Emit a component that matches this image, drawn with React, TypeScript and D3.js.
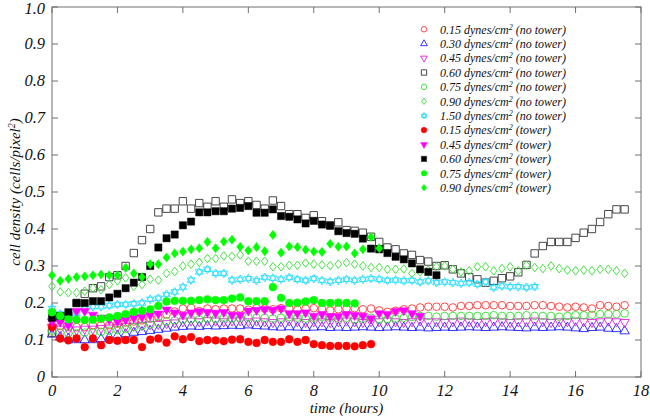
import React from "react";
import * as d3 from "d3";

// ---------- data ----------
const TIME_STEP = 0.25; // hours between samples
const xTicks = [0, 2, 4, 6, 8, 10, 12, 14, 16, 18];
const yTicks = [0, 0.1, 0.2, 0.3, 0.4, 0.5, 0.6, 0.7, 0.8, 0.9, 1.0];

const noTower015 = [
  0.138, 0.138, 0.135, 0.135, 0.135, 0.14, 0.14, 0.14, 0.144, 0.147, 0.15, 0.153, 0.158, 0.162, 0.169, 0.177, 0.185, 0.187, 0.178, 0.185, 0.183, 0.185, 0.185, 0.185,
  0.182, 0.186, 0.185, 0.183, 0.186, 0.185, 0.182, 0.185, 0.186, 0.184, 0.18, 0.183, 0.185, 0.186, 0.183, 0.185, 0.18,
  0.176, 0.179, 0.183, 0.185, 0.188, 0.19, 0.19, 0.19, 0.188, 0.192, 0.192, 0.194, 0.194, 0.194, 0.194, 0.192, 0.192, 0.192, 0.194, 0.194,
  0.192, 0.19, 0.188, 0.19, 0.188, 0.185, 0.194, 0.192, 0.19, 0.194,
];
const noTower030 = [
  0.115, 0.108, 0.104, 0.1, 0.1, 0.1, 0.103, 0.108, 0.112, 0.116, 0.12, 0.122, 0.125, 0.128, 0.131, 0.134,
  0.136, 0.137, 0.136, 0.138, 0.137, 0.138, 0.139, 0.138, 0.14, 0.138, 0.137, 0.135, 0.134, 0.135, 0.134, 0.133, 0.134, 0.135, 0.133, 0.134,
  0.133, 0.134, 0.135, 0.134, 0.133, 0.134, 0.135, 0.134, 0.133, 0.134, 0.132, 0.133, 0.134, 0.133, 0.134, 0.135, 0.134, 0.133, 0.134, 0.135,
  0.134, 0.133, 0.132, 0.134, 0.133, 0.134, 0.135, 0.134, 0.132, 0.13, 0.133, 0.134, 0.131, 0.13, 0.124,
];
const noTower045 = [
  0.135, 0.13, 0.128, 0.128, 0.13, 0.13, 0.132, 0.133, 0.135, 0.137, 0.138, 0.14, 0.142, 0.143, 0.145, 0.147,
  0.15, 0.152, 0.15, 0.153, 0.152, 0.15, 0.152, 0.153, 0.15, 0.152, 0.15, 0.148, 0.15, 0.152, 0.15, 0.148, 0.15, 0.15, 0.148, 0.15,
  0.152, 0.15, 0.148, 0.15, 0.15, 0.152, 0.15, 0.148, 0.15, 0.152, 0.15, 0.15, 0.148, 0.15, 0.152, 0.15, 0.148, 0.15, 0.152, 0.15,
  0.148, 0.15, 0.15, 0.152, 0.15, 0.148, 0.15, 0.15, 0.152, 0.15, 0.148, 0.15, 0.152, 0.15, 0.148,
];
const noTower060 = [
  0.12, 0.16, 0.165, 0.2, 0.225, 0.24, 0.245, 0.27, 0.275, 0.3, 0.335, 0.37, 0.4, 0.445, 0.455, 0.455, 0.475, 0.455, 0.47, 0.46,
  0.475, 0.46, 0.48, 0.47, 0.475, 0.465, 0.455, 0.477, 0.462, 0.44, 0.44, 0.43, 0.437, 0.421, 0.41, 0.418, 0.397, 0.395, 0.39, 0.379,
  0.365, 0.35, 0.345, 0.334, 0.33, 0.316, 0.312, 0.3, 0.302, 0.291, 0.28, 0.27, 0.264, 0.255, 0.26, 0.267, 0.272, 0.283, 0.303, 0.334,
  0.354, 0.365, 0.365, 0.365, 0.376, 0.39, 0.4, 0.419, 0.44, 0.453, 0.453,
];
const noTower075 = [
  0.125, 0.12, 0.118, 0.118, 0.12, 0.12, 0.122, 0.125, 0.127, 0.13, 0.135, 0.138, 0.142, 0.146, 0.15, 0.153,
  0.155, 0.156, 0.156, 0.158, 0.157, 0.16, 0.158, 0.16, 0.162, 0.16, 0.16, 0.158, 0.16, 0.162, 0.16, 0.158, 0.16, 0.162, 0.16, 0.158,
  0.16, 0.156, 0.158, 0.16, 0.156,
  0.156, 0.158, 0.16, 0.162, 0.165, 0.165, 0.163, 0.165, 0.165, 0.165, 0.165, 0.165, 0.165, 0.167, 0.165, 0.165, 0.165, 0.167, 0.165, 0.165,
  0.165, 0.163, 0.165, 0.167, 0.167, 0.168, 0.17, 0.17, 0.17, 0.172,
];
const noTower090 = [
  0.245, 0.23, 0.228, 0.228, 0.232, 0.24, 0.236, 0.25, 0.26, 0.268, 0.245, 0.25, 0.264, 0.262, 0.28, 0.285, 0.3, 0.305, 0.31, 0.32,
  0.32, 0.327, 0.326, 0.33, 0.313, 0.313, 0.313, 0.298, 0.298, 0.302, 0.302, 0.308, 0.305, 0.303, 0.301, 0.305, 0.309, 0.305, 0.3, 0.296,
  0.296, 0.291, 0.291, 0.292, 0.28, 0.284, 0.289, 0.298, 0.3, 0.291, 0.284, 0.287, 0.298, 0.298, 0.287, 0.293, 0.298, 0.287, 0.302, 0.296,
  0.293, 0.3, 0.293, 0.289, 0.287, 0.289, 0.287, 0.291, 0.291, 0.287, 0.28,
];
const noTower150 = [
  0.185, 0.17, 0.17, 0.172, 0.185, 0.19, 0.19, 0.193, 0.196, 0.196, 0.198, 0.2, 0.21, 0.213, 0.223, 0.23, 0.243,
  0.262, 0.284, 0.291, 0.28, 0.28,
  0.262, 0.264, 0.266, 0.261, 0.269, 0.267, 0.264, 0.269, 0.264, 0.261, 0.266, 0.261, 0.258, 0.261, 0.264, 0.261, 0.264, 0.266,
  0.264, 0.261, 0.262, 0.26, 0.261, 0.257, 0.26, 0.255, 0.257, 0.255, 0.253, 0.255, 0.251, 0.257, 0.242, 0.246, 0.244, 0.244, 0.242, 0.244,
];
const tower015 = [
  0.135, 0.104, 0.099, 0.104, 0.081, 0.104, 0.086, 0.1, 0.098, 0.1, 0.1, 0.081, 0.101, 0.104, 0.093, 0.11, 0.102, 0.108, 0.097, 0.1,
  0.099, 0.097, 0.101, 0.102, 0.095, 0.092, 0.1, 0.095, 0.095, 0.102, 0.095, 0.1, 0.089, 0.086, 0.084, 0.084, 0.084, 0.083, 0.086, 0.089,
];
const tower045 = [
  0.15, 0.149, 0.14, 0.178, 0.178, 0.168, 0.16, 0.155, 0.15, 0.155, 0.16, 0.162, 0.167, 0.171, 0.182, 0.174, 0.168, 0.174, 0.177, 0.175,
  0.173, 0.175, 0.168, 0.167, 0.179, 0.181, 0.183, 0.181, 0.185, 0.172, 0.172, 0.174, 0.165, 0.17, 0.164, 0.164, 0.17, 0.167, 0.165, 0.158,
  0.172, 0.17, 0.178, 0.18, 0.172, 0.165,
];
const tower060 = [
  0.16, 0.165, 0.175, 0.2, 0.2, 0.205, 0.205, 0.215, 0.225, 0.24, 0.255, 0.27, 0.3, 0.35, 0.375, 0.385, 0.41, 0.42, 0.445, 0.445,
  0.448, 0.448, 0.455, 0.457, 0.462, 0.444, 0.444, 0.453, 0.435, 0.433, 0.426, 0.415, 0.422, 0.412, 0.409, 0.394, 0.389, 0.387, 0.374, 0.347,
  0.345, 0.335, 0.325, 0.318, 0.307, 0.291, 0.284, 0.275,
];
const tower075 = [
  0.175, 0.165, 0.156, 0.155, 0.154, 0.155, 0.158, 0.161, 0.165, 0.17, 0.176, 0.179, 0.183, 0.192, 0.204, 0.206, 0.206, 0.206, 0.208, 0.21,
  0.208, 0.208, 0.212, 0.215, 0.205, 0.205, 0.205, 0.243, 0.214, 0.2, 0.201, 0.204, 0.208, 0.2, 0.2, 0.201, 0.2, 0.199,
];
const tower090 = [
  0.275, 0.26, 0.265, 0.27, 0.272, 0.275, 0.277, 0.275, 0.275, 0.295, 0.28, 0.27, 0.305, 0.305, 0.323, 0.334, 0.339, 0.345, 0.348, 0.365,
  0.348, 0.366, 0.371, 0.352, 0.342, 0.351, 0.34, 0.384, 0.336, 0.353, 0.351, 0.344, 0.339, 0.338, 0.36, 0.352, 0.353, 0.334, 0.345, 0.378,
  0.348,
];

const seriesLabels = [
  "0.15", "0.30", "0.45", "0.60", "0.75", "0.90", "1.50",
  "0.15", "0.45", "0.60", "0.75", "0.90",
];
const seriesGroups = [
  "no tower", "no tower", "no tower", "no tower", "no tower", "no tower", "no tower",
  "tower", "tower", "tower", "tower", "tower",
];
const seriesValues = [
  noTower015, noTower030, noTower045, noTower060, noTower075, noTower090, noTower150,
  tower015, tower045, tower060, tower075, tower090,
];

// ---------- styles ----------
type Shape = "circle" | "up" | "down" | "square" | "diamond" | "hexagram";
const seriesStyles: { shape: Shape; color: string; filled: boolean; r: number }[] = [
  { shape: "circle", color: "#ff3333", filled: false, r: 3.8 },
  { shape: "up", color: "#2020ff", filled: false, r: 5.4 },
  { shape: "down", color: "#e020e0", filled: false, r: 5.4 },
  { shape: "square", color: "#333333", filled: false, r: 3.7 },
  { shape: "circle", color: "#33dd33", filled: false, r: 3.8 },
  { shape: "diamond", color: "#33dd33", filled: false, r: 4.3 },
  { shape: "hexagram", color: "#22ddff", filled: false, r: 4.4 },
  { shape: "circle", color: "#ff0000", filled: true, r: 3.9 },
  { shape: "down", color: "#ff00ff", filled: true, r: 5.4 },
  { shape: "square", color: "#000000", filled: true, r: 3.6 },
  { shape: "circle", color: "#00ff00", filled: true, r: 3.9 },
  { shape: "diamond", color: "#00ff00", filled: true, r: 4.6 },
];

// custom symbol types (size = r^2)
const symUp = {
  draw(ctx: any, size: number) {
    const r = Math.sqrt(size);
    const c = Math.cos(Math.PI / 6) * r;
    ctx.moveTo(0, -r);
    ctx.lineTo(c, r / 2);
    ctx.lineTo(-c, r / 2);
    ctx.closePath();
  },
};
const symDown = {
  draw(ctx: any, size: number) {
    const r = Math.sqrt(size);
    const c = Math.cos(Math.PI / 6) * r;
    ctx.moveTo(0, r);
    ctx.lineTo(c, -r / 2);
    ctx.lineTo(-c, -r / 2);
    ctx.closePath();
  },
};
const symSquare = {
  draw(ctx: any, size: number) {
    const r = Math.sqrt(size);
    ctx.rect(-r, -r, 2 * r, 2 * r);
  },
};
const symCircle = {
  draw(ctx: any, size: number) {
    const r = Math.sqrt(size);
    ctx.moveTo(r, 0);
    ctx.arc(0, 0, r, 0, 2 * Math.PI);
  },
};
const symDiamond = {
  draw(ctx: any, size: number) {
    const r = Math.sqrt(size);
    const w = r * 0.78;
    ctx.moveTo(0, -r);
    ctx.lineTo(w, 0);
    ctx.lineTo(0, r);
    ctx.lineTo(-w, 0);
    ctx.closePath();
  },
};
const symHexagram = {
  draw(ctx: any, size: number) {
    const r = Math.sqrt(size);
    const c = Math.cos(Math.PI / 6) * r;
    ctx.moveTo(0, -r);
    ctx.lineTo(c, r / 2);
    ctx.lineTo(-c, r / 2);
    ctx.closePath();
    ctx.moveTo(0, r);
    ctx.lineTo(c, -r / 2);
    ctx.lineTo(-c, -r / 2);
    ctx.closePath();
  },
};
const symbolTypes: Record<Shape, any> = {
  circle: symCircle,
  up: symUp,
  down: symDown,
  square: symSquare,
  diamond: symDiamond,
  hexagram: symHexagram,
};

const W = 650;
const H = 418;
const M = { left: 52, right: 641, top: 7, bottom: 377 };
const FONT = '"Liberation Serif", "Times New Roman", serif';
const AXIS_COLOR = "#707070";
const textStyle = { fontFamily: FONT, fontStyle: "italic" as const };

export default function App() {
  const x = d3.scaleLinear().domain([0, 18]).range([M.left, M.right]);
  const y = d3.scaleLinear().domain([0, 1]).range([M.bottom, M.top]);

  const markerPath = (i: number, scale = 1) => {
    const st = seriesStyles[i];
    const r = st.r * scale;
    return d3.symbol().type(symbolTypes[st.shape]).size(r * r)() as string;
  };

  const tickLen = 6;
  const legendX = 424;
  const legendTextX = 440;
  const legendY0 = 29.3;
  const legendStep = 14.4;

  return (
    <svg width={W} height={H} style={{ position: "absolute", left: 0, top: 0, background: "#fff" }}>
      <rect x={0} y={0} width={W} height={H} fill="#fff" />
      {/* frame */}
      <rect
        x={M.left}
        y={M.top}
        width={M.right - M.left}
        height={M.bottom - M.top}
        fill="none"
        stroke={AXIS_COLOR}
        strokeWidth={1}
      />
      {/* x ticks */}
      {xTicks.map((t) => (
        <g key={"xt" + t}>
          <line x1={x(t)} x2={x(t)} y1={M.bottom} y2={M.bottom - tickLen} stroke={AXIS_COLOR} />
          <line x1={x(t)} x2={x(t)} y1={M.top} y2={M.top + tickLen} stroke={AXIS_COLOR} />
          <text x={x(t)} y={396} textAnchor="middle" fontSize={16.5} fill="#111" style={textStyle}>
            {t}
          </text>
        </g>
      ))}
      {/* y ticks */}
      {yTicks.map((v) => (
        <g key={"yt" + v}>
          <line x1={M.left} x2={M.left + tickLen} y1={y(v)} y2={y(v)} stroke={AXIS_COLOR} />
          <line x1={M.right} x2={M.right - tickLen} y1={y(v)} y2={y(v)} stroke={AXIS_COLOR} />
          <text
            x={45}
            y={y(v) + (v === 1 ? 1.5 : 0)}
            dy="0.33em"
            textAnchor="end"
            fontSize={16.5}
            fill="#111"
            style={textStyle}
          >
            {v === 0 ? "0" : d3.format(".1f")(v)}
          </text>
        </g>
      ))}
      {/* axis titles */}
      <text x={(M.left + M.right) / 2} y={413} textAnchor="middle" fontSize={15} fill="#111" style={textStyle}>
        time (hours)
      </text>
      <text
        transform={`translate(20, ${(M.top + M.bottom) / 2}) rotate(-90)`}
        textAnchor="middle"
        fontSize={15}
        fill="#111"
        style={textStyle}
      >
        cell density (cells/pixel
        <tspan baselineShift="super" fontSize={10}>
          2
        </tspan>
        )
      </text>

      {/* data */}
      {seriesValues.map((vals, si) => {
        const st = seriesStyles[si];
        const p = markerPath(si);
        return (
          <g key={"s" + si}>
            {vals.map((v, i) => (
              <path
                key={i}
                d={p}
                transform={`translate(${x(i * TIME_STEP)},${y(v)})`}
                fill={st.filled ? st.color : "none"}
                stroke={st.color}
                strokeWidth={st.filled ? 0.5 : 0.9}
              />
            ))}
          </g>
        );
      })}

      {/* legend */}
      {seriesLabels.map((lab, si) => {
        const st = seriesStyles[si];
        const ly = legendY0 + si * legendStep;
        return (
          <g key={"lg" + si}>
            <path
              d={markerPath(si, 0.72)}
              transform={`translate(${legendX},${ly})`}
              fill={st.filled ? st.color : "none"}
              stroke={st.color}
              strokeWidth={st.filled ? 0.5 : 0.9}
            />
            <text x={legendTextX} y={ly} dy="0.35em" fontSize={12} fill="#111" style={textStyle}>
              {lab} dynes/cm
              <tspan baselineShift="super" fontSize={8}>
                2
              </tspan>{" "}
              ({seriesGroups[si]})
            </text>
          </g>
        );
      })}
    </svg>
  );
}
